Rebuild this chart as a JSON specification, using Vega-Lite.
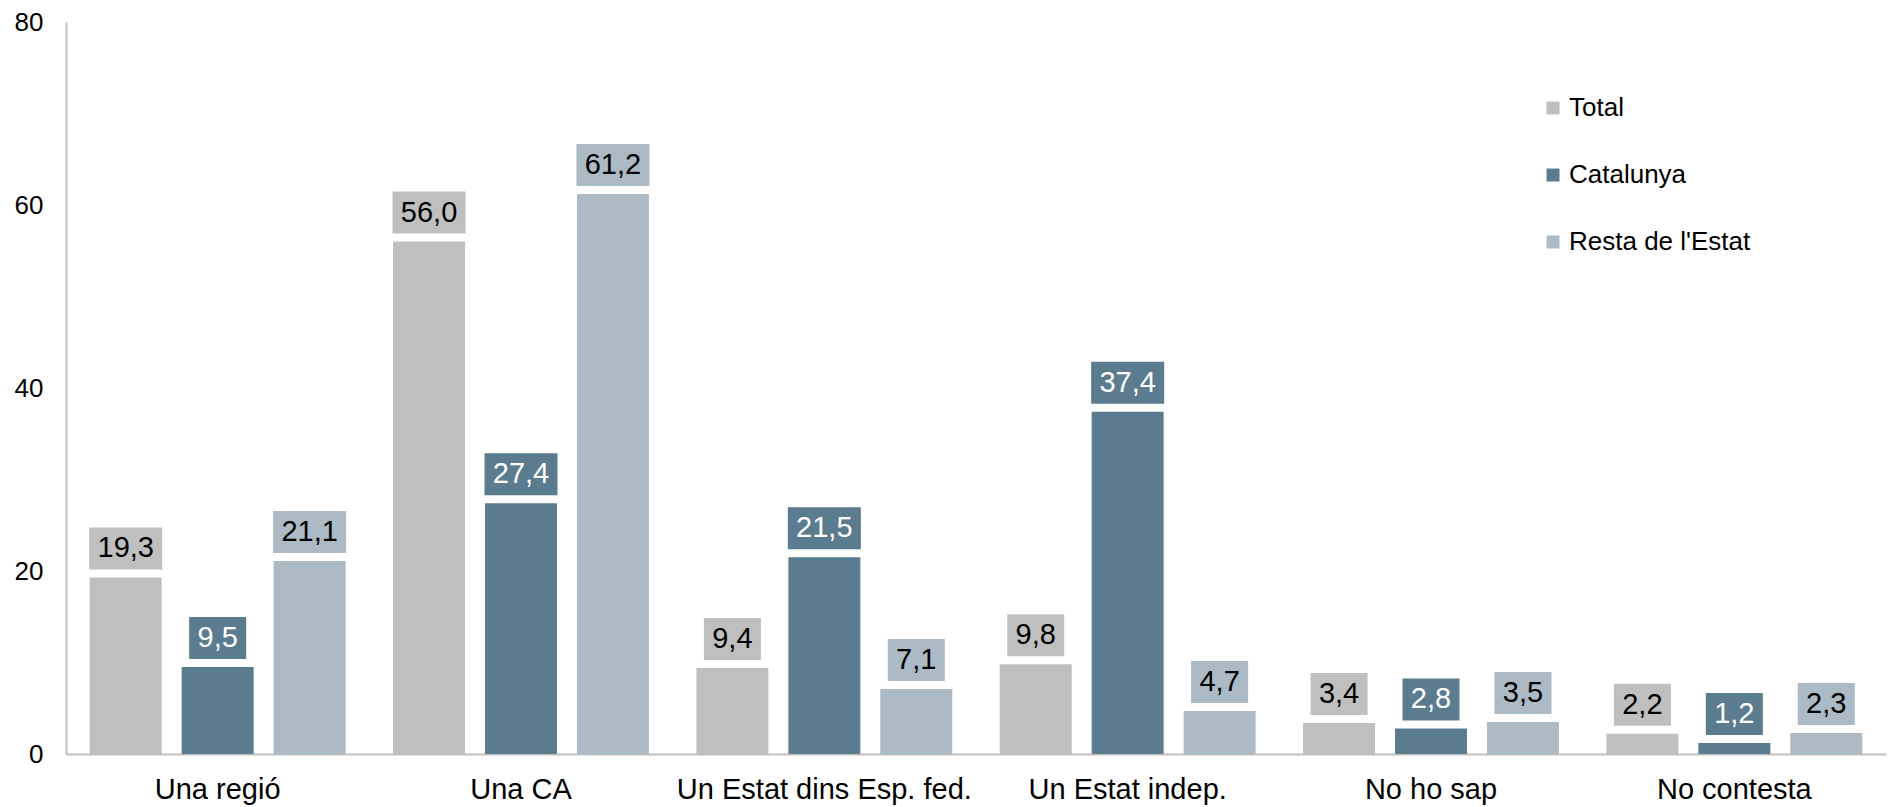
{
  "$schema": "https://vega.github.io/schema/vega-lite/v6.json",
  "width": 1820,
  "height": 732,
  "autosize": {"type": "none"},
  "padding": {"left": 66, "top": 22, "right": 5, "bottom": 53},
  "background": "white",
  "data": {"values": [
    {"cat": "Una regió", "serie": "Total", "value": 19.3},
    {"cat": "Una regió", "serie": "Catalunya", "value": 9.5},
    {"cat": "Una regió", "serie": "Resta de l'Estat", "value": 21.1},
    {"cat": "Una CA", "serie": "Total", "value": 56.0},
    {"cat": "Una CA", "serie": "Catalunya", "value": 27.4},
    {"cat": "Una CA", "serie": "Resta de l'Estat", "value": 61.2},
    {"cat": "Un Estat dins Esp. fed.", "serie": "Total", "value": 9.4},
    {"cat": "Un Estat dins Esp. fed.", "serie": "Catalunya", "value": 21.5},
    {"cat": "Un Estat dins Esp. fed.", "serie": "Resta de l'Estat", "value": 7.1},
    {"cat": "Un Estat indep.", "serie": "Total", "value": 9.8},
    {"cat": "Un Estat indep.", "serie": "Catalunya", "value": 37.4},
    {"cat": "Un Estat indep.", "serie": "Resta de l'Estat", "value": 4.7},
    {"cat": "No ho sap", "serie": "Total", "value": 3.4},
    {"cat": "No ho sap", "serie": "Catalunya", "value": 2.8},
    {"cat": "No ho sap", "serie": "Resta de l'Estat", "value": 3.5},
    {"cat": "No contesta", "serie": "Total", "value": 2.2},
    {"cat": "No contesta", "serie": "Catalunya", "value": 1.2},
    {"cat": "No contesta", "serie": "Resta de l'Estat", "value": 2.3}
  ]},
  "encoding": {
    "x": {
      "field": "cat", "type": "nominal", "sort": null, "title": null,
      "scale": {"paddingInner": 0, "paddingOuter": 0},
      "axis": {"labelAngle": 0, "ticks": false, "tickSize": 0, "labelPadding": 44, "labelBaseline": "alphabetic", "labelFontSize": 29, "labelLimit": 0, "labelColor": "#000000", "domainColor": "#BFBFBF", "domainWidth": 2, "labelFont": "Liberation Sans"}
    },
    "xOffset": {
      "field": "serie", "type": "nominal",
      "sort": ["Total", "Catalunya", "Resta de l'Estat"],
      "scale": {"domain": ["Total", "Catalunya", "Resta de l'Estat"], "paddingInner": 0.217, "paddingOuter": 0.258}
    }
  },
  "layer": [
    {
      "mark": {"type": "bar"},
      "encoding": {
        "y": {
          "field": "value", "type": "quantitative", "title": null,
          "scale": {"domain": [0, 80], "nice": false},
          "axis": {"values": [0, 20, 40, 60, 80], "grid": false, "ticks": false, "tickSize": 0, "labelPadding": 23, "labelFontSize": 26, "labelColor": "#000000", "domainColor": "#BFBFBF", "domainWidth": 2, "labelFont": "Liberation Sans"}
        },
        "color": {
          "field": "serie", "type": "nominal", "title": null,
          "scale": {"domain": ["Total", "Catalunya", "Resta de l'Estat"], "range": ["#BFBFBF", "#5B7C8F", "#ABBAC5"]},
          "legend": {
            "orient": "none", "legendX": 1474, "legendY": 73,
            "symbolType": "square", "symbolSize": 169, "symbolStrokeWidth": 0,
            "labelFontSize": 26, "labelFont": "Liberation Sans", "labelColor": "#000000", "labelLimit": 0,
            "rowPadding": 41, "labelOffset": 3
          }
        }
      }
    },
    {
      "mark": {"type": "bar", "yOffset": -50, "y2Offset": -8},
      "encoding": {
        "y": {"field": "value", "type": "quantitative"},
        "y2": {"field": "value"},
        "color": {"field": "serie", "type": "nominal"},
        "size": {"condition": {"test": "datum.value >= 10", "value": 73}, "value": 57}
      }
    },
    {
      "mark": {"type": "text", "baseline": "middle", "align": "center", "dy": -29, "fontSize": 29, "font": "Liberation Sans"},
      "encoding": {
        "y": {"field": "value", "type": "quantitative"},
        "text": {"field": "value", "type": "quantitative", "format": ".1f"},
        "color": {"condition": {"test": "datum.serie === 'Catalunya'", "value": "#FFFFFF"}, "value": "#000000"}
      }
    }
  ],
  "config": {
    "font": "Liberation Sans",
    "view": {"stroke": null},
    "locale": {"number": {"decimal": ",", "thousands": ".", "grouping": [3], "currency": ["", " €"]}}
  }
}
